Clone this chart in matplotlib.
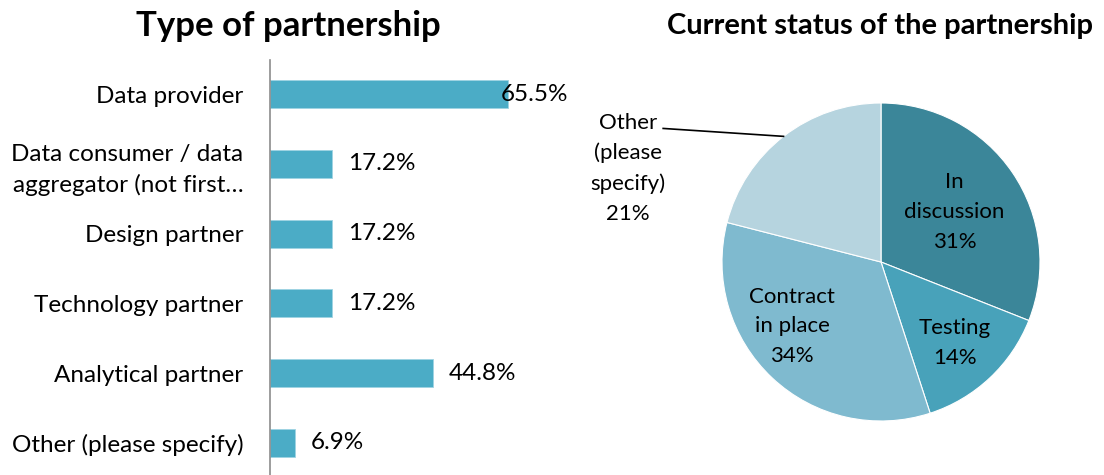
import numpy as np
import matplotlib.pyplot as plt

plt.rcParams['font.family'] = ['Lato', 'DejaVu Sans']

# bar chart data
types = ['Data provider', 'Data consumer / data\naggregator (not first\u2026',
         'Design partner', 'Technology partner', 'Analytical partner',
         'Other (please specify)']
type_pct = [65.5, 17.2, 17.2, 17.2, 44.8, 6.9]

# pie data
status = ['In\ndiscussion', 'Testing', 'Contract\nin place', 'Other\n(please\nspecify)']
status_pct = [31, 14, 34, 21]
status_colors = ['#3b8699', '#48a2ba', '#7fbacf', '#b6d4df']

W, H = 1104, 475
fig = plt.figure(figsize=(W / 100, H / 100), dpi=100)


def px_rect(left, top, width, height):
    return [left / W, (H - top - height) / H, width / W, height / H]


# ---- left: bars ----
ax = fig.add_axes(px_rect(270, 60, 298, 415))
y = np.arange(len(types))
ax.barh(y, type_pct, height=0.4, color='#4bacc6', edgecolor='#9fd3e2', linewidth=0.6)
xmax = 298 / 3.63
ax.set_xlim(0, xmax)
ax.set_ylim(5.46, -0.49)
for s in ['top', 'right', 'bottom']:
    ax.spines[s].set_visible(False)
ax.spines['left'].set_color('#8c8c8c')
ax.spines['left'].set_linewidth(1.2)
ax.set_xticks([])
ax.set_yticks(y)
ax.set_yticklabels(types, fontsize=17.5, linespacing=1.45)
ax.tick_params(axis='y', length=0, pad=19)
for yi, v in zip(y, type_pct):
    lab = f'{v:.1f}%'
    if v + 4.4 + 18.7 > xmax:
        ax.text(xmax, yi, lab, ha='right', va='center', fontsize=17.5)
    else:
        ax.text(v + 4.4, yi, lab, ha='left', va='center', fontsize=17.5)
fig.text(288 / W, 1 - 26 / H, 'Type of partnership', ha='center', va='center',
         fontsize=25, fontweight='bold')

# ---- right: pie ----
R = 159
cx, cy = 881, 262
pax = fig.add_axes(px_rect(cx - 2.0 * R, cy - 1.2 * R, 3.4 * R, 2.4 * R))
wedges, _ = pax.pie(status_pct, colors=status_colors, startangle=90, counterclock=False,
                    radius=1, wedgeprops=dict(edgecolor='white', linewidth=0.8))
pax.set_xlim(-2.0, 1.4)
pax.set_ylim(-1.2, 1.2)
pax.set_aspect('auto')
pax.axis('off')

# label placement: radial distance and angle shift per slice
label_r = [0.56, 0.69, 0.69]
label_shift = [0, -1, -11]
for i, w in enumerate(wedges[:3]):
    ang = np.deg2rad((w.theta1 + w.theta2) / 2 + label_shift[i])
    pax.text(label_r[i] * np.cos(ang), label_r[i] * np.sin(ang),
             f'{status[i]}\n{status_pct[i]}%', ha='center', va='center',
             fontsize=16, linespacing=1.6)

w = wedges[3]
ang = np.deg2rad((w.theta1 + w.theta2) / 2)
pax.plot([np.cos(ang), -1.37], [np.sin(ang), 0.84], color='black', lw=1.2)
pax.text(-1.59, 0.59, f'{status[3]}\n{status_pct[3]}%', ha='center', va='center',
         fontsize=16, linespacing=1.6)
fig.text(880 / W, 1 - 26 / H, 'Current status of the partnership', ha='center',
         va='center', fontsize=21, fontweight='bold')

fig.savefig('out.png', dpi=100)
